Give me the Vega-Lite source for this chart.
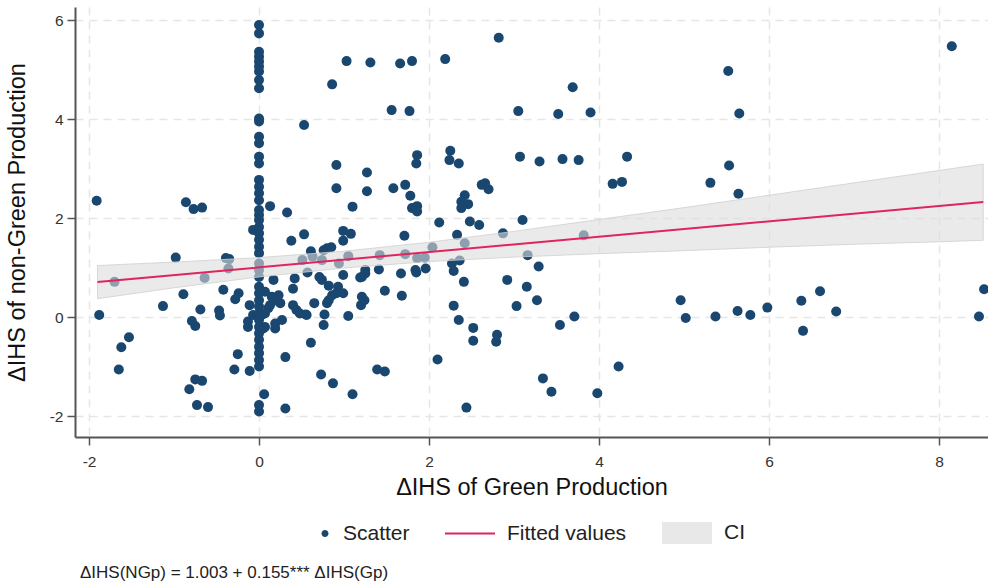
{
  "$schema": "https://vega.github.io/schema/vega-lite/v6.json",
  "width": 913,
  "height": 430,
  "autosize": {"type": "none"},
  "padding": {"left": 75, "top": 7, "right": 0, "bottom": 148},
  "background": "white",
  "title": {
    "text": "ΔIHS(NGp) =  1.003 + 0.155*** ΔIHS(Gp)",
    "orient": "bottom",
    "anchor": "start",
    "frame": "group",
    "dx": 5,
    "offset": 21,
    "fontSize": 17,
    "fontWeight": "normal",
    "color": "#222222"
  },
  "datasets": {
    "scatter": [
      {"gp": -1.91, "ngp": 2.35}, {"gp": -1.88, "ngp": 0.04}, {"gp": -1.7, "ngp": 0.71}, {"gp": -1.62, "ngp": -0.61},
      {"gp": -1.53, "ngp": -0.41}, {"gp": -1.65, "ngp": -1.06}, {"gp": -1.13, "ngp": 0.22}, {"gp": -0.98, "ngp": 1.2},
      {"gp": -0.89, "ngp": 0.46}, {"gp": -0.86, "ngp": 2.32}, {"gp": -0.77, "ngp": 2.18}, {"gp": -0.67, "ngp": 2.21},
      {"gp": -0.79, "ngp": -0.08}, {"gp": -0.75, "ngp": -0.18}, {"gp": -0.69, "ngp": 0.15}, {"gp": -0.64, "ngp": 0.79},
      {"gp": -0.82, "ngp": -1.46}, {"gp": -0.75, "ngp": -1.26}, {"gp": -0.67, "ngp": -1.29}, {"gp": -0.73, "ngp": -1.78},
      {"gp": -0.6, "ngp": -1.82}, {"gp": -0.47, "ngp": 0.13}, {"gp": -0.46, "ngp": 0.03}, {"gp": -0.42, "ngp": 0.55},
      {"gp": -0.39, "ngp": 1.19}, {"gp": -0.35, "ngp": 1.17}, {"gp": -0.36, "ngp": 0.98}, {"gp": -0.28, "ngp": 0.36},
      {"gp": -0.24, "ngp": 0.48}, {"gp": -0.25, "ngp": -0.75}, {"gp": -0.29, "ngp": -1.06}, {"gp": -0.11, "ngp": -1.09},
      {"gp": -0.13, "ngp": -0.2}, {"gp": -0.11, "ngp": 0.24}, {"gp": -0.07, "ngp": 1.76}, {"gp": -0.07, "ngp": 0.04},
      {"gp": -0.13, "ngp": -0.09},
      {"gp": 0, "ngp": 5.9}, {"gp": 0, "ngp": 5.73}, {"gp": 0, "ngp": 5.36}, {"gp": 0, "ngp": 5.26}, {"gp": 0, "ngp": 5.16},
      {"gp": 0, "ngp": 5.06}, {"gp": 0, "ngp": 4.96}, {"gp": 0, "ngp": 4.79}, {"gp": 0, "ngp": 4.62}, {"gp": 0, "ngp": 4.01},
      {"gp": 0, "ngp": 3.95}, {"gp": 0, "ngp": 3.64}, {"gp": 0, "ngp": 3.51}, {"gp": 0, "ngp": 3.24}, {"gp": 0, "ngp": 3.1},
      {"gp": 0, "ngp": 2.77}, {"gp": 0, "ngp": 2.63}, {"gp": 0, "ngp": 2.5}, {"gp": 0, "ngp": 2.36}, {"gp": 0, "ngp": 2.16},
      {"gp": 0, "ngp": 2.06}, {"gp": 0, "ngp": 1.96}, {"gp": 0, "ngp": 1.82}, {"gp": 0, "ngp": 1.69}, {"gp": 0, "ngp": 1.56},
      {"gp": 0, "ngp": 1.42}, {"gp": 0, "ngp": 1.29}, {"gp": 0, "ngp": 1.08}, {"gp": 0, "ngp": 0.95}, {"gp": 0, "ngp": 0.81},
      {"gp": 0, "ngp": 0.61}, {"gp": 0, "ngp": 0.48}, {"gp": 0, "ngp": 0.34}, {"gp": 0, "ngp": 0.21}, {"gp": 0, "ngp": 0.07},
      {"gp": 0, "ngp": -0.06}, {"gp": 0, "ngp": -0.2}, {"gp": 0, "ngp": -0.33}, {"gp": 0, "ngp": -0.46}, {"gp": 0, "ngp": -0.6},
      {"gp": 0, "ngp": -0.73}, {"gp": 0, "ngp": -0.87}, {"gp": 0, "ngp": -1.0}, {"gp": 0, "ngp": -1.78}, {"gp": 0, "ngp": -1.91},
      {"gp": 0.13, "ngp": 2.24}, {"gp": 0.33, "ngp": 2.11}, {"gp": 0.53, "ngp": 3.88}, {"gp": 0.86, "ngp": 4.7},
      {"gp": 1.03, "ngp": 5.17}, {"gp": 0.91, "ngp": 3.07}, {"gp": 0.91, "ngp": 2.6}, {"gp": 1.1, "ngp": 2.23},
      {"gp": 1.27, "ngp": 2.92}, {"gp": 1.27, "ngp": 2.54},
      {"gp": 0.38, "ngp": 1.54}, {"gp": 0.53, "ngp": 1.67}, {"gp": 0.51, "ngp": 1.15}, {"gp": 0.61, "ngp": 1.33},
      {"gp": 0.76, "ngp": 1.35}, {"gp": 0.85, "ngp": 1.41}, {"gp": 0.99, "ngp": 1.74}, {"gp": 1.08, "ngp": 1.68},
      {"gp": 0.99, "ngp": 1.54}, {"gp": 0.74, "ngp": 1.15}, {"gp": 0.63, "ngp": 1.22}, {"gp": 0.94, "ngp": 1.08},
      {"gp": 1.05, "ngp": 1.23}, {"gp": 0.8, "ngp": 1.39},
      {"gp": 0.17, "ngp": 0.75}, {"gp": 0.42, "ngp": 0.78}, {"gp": 0.57, "ngp": 0.9}, {"gp": 0.71, "ngp": 0.81},
      {"gp": 0.74, "ngp": 0.75}, {"gp": 0.99, "ngp": 0.85}, {"gp": 1.21, "ngp": 0.81}, {"gp": 0.4, "ngp": 0.57},
      {"gp": 0.82, "ngp": 0.63}, {"gp": 0.93, "ngp": 0.61}, {"gp": 0.86, "ngp": 0.44}, {"gp": 0.91, "ngp": 0.48},
      {"gp": 0.99, "ngp": 0.48}, {"gp": 0.8, "ngp": 0.28}, {"gp": 0.65, "ngp": 0.28}, {"gp": 1.21, "ngp": 0.41},
      {"gp": 1.2, "ngp": 0.24}, {"gp": 0.82, "ngp": 0.34},
      {"gp": 0.11, "ngp": 0.18}, {"gp": 0.13, "ngp": 0.24}, {"gp": 0.19, "ngp": 0.34}, {"gp": 0.23, "ngp": 0.44},
      {"gp": 0.25, "ngp": 0.28}, {"gp": 0.4, "ngp": 0.24}, {"gp": 0.44, "ngp": 0.14}, {"gp": 0.48, "ngp": 0.07},
      {"gp": 0.55, "ngp": 0.05}, {"gp": 0.77, "ngp": 0.05}, {"gp": 1.05, "ngp": 0.02}, {"gp": 0.76, "ngp": -0.16},
      {"gp": 0.05, "ngp": -0.23}, {"gp": 0.19, "ngp": -0.23}, {"gp": 0.19, "ngp": -0.13}, {"gp": 0.27, "ngp": -0.06},
      {"gp": 0.61, "ngp": -0.52}, {"gp": 0.31, "ngp": -0.81}, {"gp": 0.73, "ngp": -1.16}, {"gp": 0.87, "ngp": -1.34},
      {"gp": 1.1, "ngp": -1.56}, {"gp": 0.06, "ngp": -1.56}, {"gp": 0.31, "ngp": -1.85}, {"gp": 0.03, "ngp": 0.04},
      {"gp": 0.07, "ngp": -0.2}, {"gp": 0.07, "ngp": 0.07}, {"gp": 0.07, "ngp": 0.51}, {"gp": 0.15, "ngp": 0.41},
      {"gp": 0.56, "ngp": 0.04},
      {"gp": 1.86, "ngp": 3.27}, {"gp": 1.85, "ngp": 3.1}, {"gp": 2.25, "ngp": 3.36}, {"gp": 2.24, "ngp": 3.17},
      {"gp": 2.35, "ngp": 3.1}, {"gp": 1.58, "ngp": 2.6}, {"gp": 1.72, "ngp": 2.67}, {"gp": 1.78, "ngp": 2.45},
      {"gp": 1.8, "ngp": 2.2}, {"gp": 1.86, "ngp": 2.24}, {"gp": 1.86, "ngp": 2.13}, {"gp": 2.12, "ngp": 1.91},
      {"gp": 2.33, "ngp": 1.66}, {"gp": 2.42, "ngp": 2.46}, {"gp": 2.38, "ngp": 2.33}, {"gp": 2.46, "ngp": 2.28},
      {"gp": 2.38, "ngp": 2.2}, {"gp": 2.48, "ngp": 1.93}, {"gp": 2.59, "ngp": 1.86}, {"gp": 2.62, "ngp": 2.67},
      {"gp": 2.7, "ngp": 2.58}, {"gp": 2.66, "ngp": 2.7}, {"gp": 1.71, "ngp": 1.64},
      {"gp": 1.42, "ngp": 1.25}, {"gp": 1.72, "ngp": 1.27}, {"gp": 1.86, "ngp": 1.19}, {"gp": 1.95, "ngp": 1.2},
      {"gp": 2.04, "ngp": 1.41}, {"gp": 2.42, "ngp": 1.49},
      {"gp": 2.27, "ngp": 1.08}, {"gp": 2.36, "ngp": 1.14}, {"gp": 2.29, "ngp": 0.93}, {"gp": 2.41, "ngp": 0.71},
      {"gp": 1.41, "ngp": 0.96}, {"gp": 1.25, "ngp": 0.95}, {"gp": 1.67, "ngp": 0.88}, {"gp": 1.84, "ngp": 0.95},
      {"gp": 1.85, "ngp": 0.9}, {"gp": 1.96, "ngp": 0.98}, {"gp": 1.48, "ngp": 0.53}, {"gp": 1.68, "ngp": 0.43},
      {"gp": 1.24, "ngp": 0.34}, {"gp": 2.29, "ngp": 0.23}, {"gp": 2.35, "ngp": -0.06}, {"gp": 2.52, "ngp": -0.22},
      {"gp": 2.52, "ngp": -0.48}, {"gp": 2.79, "ngp": -0.5}, {"gp": 2.8, "ngp": -0.36}, {"gp": 2.1, "ngp": -0.86},
      {"gp": 1.39, "ngp": -1.06}, {"gp": 1.48, "ngp": -1.1}, {"gp": 2.44, "ngp": -1.83}, {"gp": 1.19, "ngp": 0.8},
      {"gp": 1.25, "ngp": 0.88},
      {"gp": 1.31, "ngp": 5.14}, {"gp": 1.66, "ngp": 5.12}, {"gp": 1.8, "ngp": 5.17}, {"gp": 2.19, "ngp": 5.21},
      {"gp": 2.82, "ngp": 5.64}, {"gp": 1.56, "ngp": 4.18}, {"gp": 1.77, "ngp": 4.16}, {"gp": 3.05, "ngp": 4.16},
      {"gp": 3.69, "ngp": 4.64}, {"gp": 3.52, "ngp": 4.1}, {"gp": 3.9, "ngp": 4.13},
      {"gp": 3.1, "ngp": 1.96}, {"gp": 3.07, "ngp": 3.24}, {"gp": 3.3, "ngp": 3.14}, {"gp": 3.57, "ngp": 3.19},
      {"gp": 3.76, "ngp": 3.17}, {"gp": 4.33, "ngp": 3.24}, {"gp": 4.16, "ngp": 2.69}, {"gp": 4.27, "ngp": 2.73},
      {"gp": 2.87, "ngp": 1.69}, {"gp": 3.82, "ngp": 1.65}, {"gp": 3.16, "ngp": 1.25}, {"gp": 3.29, "ngp": 1.02},
      {"gp": 2.92, "ngp": 0.75}, {"gp": 3.15, "ngp": 0.61}, {"gp": 3.27, "ngp": 0.34}, {"gp": 3.03, "ngp": 0.22},
      {"gp": 3.54, "ngp": -0.16}, {"gp": 3.71, "ngp": 0.01}, {"gp": 3.34, "ngp": -1.24}, {"gp": 3.44, "ngp": -1.51},
      {"gp": 3.98, "ngp": -1.54}, {"gp": 4.23, "ngp": -1.0},
      {"gp": 8.15, "ngp": 5.47}, {"gp": 5.52, "ngp": 4.97}, {"gp": 5.65, "ngp": 4.11}, {"gp": 5.53, "ngp": 3.06},
      {"gp": 5.31, "ngp": 2.71}, {"gp": 5.64, "ngp": 2.49}, {"gp": 4.96, "ngp": 0.34}, {"gp": 5.02, "ngp": -0.02},
      {"gp": 5.37, "ngp": 0.01}, {"gp": 5.63, "ngp": 0.12}, {"gp": 5.78, "ngp": 0.04}, {"gp": 5.98, "ngp": 0.19},
      {"gp": 6.38, "ngp": 0.33}, {"gp": 6.4, "ngp": -0.28}, {"gp": 6.6, "ngp": 0.52}, {"gp": 6.79, "ngp": 0.11},
      {"gp": 8.47, "ngp": 0.01}, {"gp": 8.53, "ngp": 0.56}
    ],
    "band": [
      {"gp": -1.9, "lo": 0.37, "hi": 1.04}, {"gp": -1, "lo": 0.59, "hi": 1.11}, {"gp": 0, "lo": 0.81, "hi": 1.2},
      {"gp": 1, "lo": 0.99, "hi": 1.33}, {"gp": 2, "lo": 1.12, "hi": 1.51}, {"gp": 3, "lo": 1.21, "hi": 1.73},
      {"gp": 4, "lo": 1.28, "hi": 1.97}, {"gp": 5, "lo": 1.34, "hi": 2.21}, {"gp": 6, "lo": 1.41, "hi": 2.46},
      {"gp": 7, "lo": 1.47, "hi": 2.71}, {"gp": 8, "lo": 1.52, "hi": 2.96}, {"gp": 8.52, "lo": 1.55, "hi": 3.09}
    ],
    "fit": [
      {"gp": -1.9, "fit": 0.708}, {"gp": 8.52, "fit": 2.324}
    ],
    "legend": [
      {"series": "Scatter"}, {"series": "Fitted values"}, {"series": "CI"}
    ]
  },
  "encoding": {
    "x": {
      "field": "gp",
      "type": "quantitative",
      "title": "ΔIHS of Green Production",
      "scale": {"domain": [-2.165, 8.576], "nice": false, "zero": false},
      "axis": {
        "values": [-2, 0, 2, 4, 6, 8],
        "labelExpr": "'' + datum.value",
        "labelPadding": 9,
        "titlePadding": 6
      }
    }
  },
  "layer": [
    {
      "data": {"name": "scatter"},
      "mark": {"type": "circle", "size": 100, "opacity": 1, "color": "#1a476f"},
      "encoding": {
        "y": {
          "field": "ngp",
          "type": "quantitative",
          "title": "ΔIHS of non-Green Production",
          "scale": {"domain": [-2.424, 6.263], "nice": false, "zero": false},
          "axis": {
            "values": [-2, 0, 2, 4, 6],
            "labelExpr": "'' + datum.value",
            "labelPadding": 4,
            "titlePadding": 20
          }
        }
      }
    },
    {
      "data": {"name": "band"},
      "mark": {
        "type": "area",
        "fill": "#dcdcdc",
        "fillOpacity": 0.6,
        "stroke": "#d0d0d0",
        "strokeWidth": 1,
        "strokeOpacity": 0.8
      },
      "encoding": {
        "y": {"field": "lo", "type": "quantitative", "title": "ΔIHS of non-Green Production"},
        "y2": {"field": "hi"}
      }
    },
    {
      "data": {"name": "fit"},
      "mark": {"type": "line", "color": "#e0245e", "strokeWidth": 2},
      "encoding": {
        "y": {"field": "fit", "type": "quantitative", "title": "ΔIHS of non-Green Production"}
      }
    },
    {
      "data": {"name": "legend"},
      "transform": [{"filter": "false"}],
      "mark": {"type": "point", "filled": true, "opacity": 1},
      "encoding": {
        "color": {
          "field": "series",
          "type": "nominal",
          "scale": {
            "domain": ["Scatter", "Fitted values", "CI"],
            "range": ["#1a476f", "#e0245e", "#e8e8e8"]
          },
          "legend": {"orient": "none", "legendX": 206, "legendY": 501, "direction": "horizontal", "title": null}
        },
        "shape": {
          "field": "series",
          "type": "nominal",
          "scale": {
            "domain": ["Scatter", "Fitted values", "CI"],
            "range": [
              "M0.62,0A0.14,0.14,0,1,1,0.9,0A0.14,0.14,0,1,1,0.62,0Z",
              "M-1,-0.04L1,-0.04L1,0.04L-1,0.04Z",
              "M-1,-0.44L1,-0.44L1,0.44L-1,0.44Z"
            ]
          },
          "legend": {"orient": "none", "legendX": 206, "legendY": 501, "direction": "horizontal", "title": null}
        }
      }
    }
  ],
  "config": {
    "font": "Liberation Sans",
    "view": {"stroke": null},
    "axis": {
      "grid": true,
      "gridColor": "#e6e6e6",
      "gridDash": [8, 6],
      "gridWidth": 1.5,
      "domainColor": "#555555",
      "domainWidth": 2,
      "tickColor": "#555555",
      "tickWidth": 1.5,
      "tickSize": 8,
      "labelFontSize": 15.5,
      "labelColor": "#333333",
      "titleFontSize": 23.5,
      "titleFontWeight": "normal",
      "titleColor": "#111111"
    },
    "legend": {
      "symbolSize": 2500,
      "symbolStrokeWidth": 0,
      "symbolOpacity": 1,
      "labelFontSize": 21,
      "labelColor": "#222222",
      "labelOffset": 12,
      "labelLimit": 300,
      "columnPadding": 35,
      "padding": 0
    }
  }
}
